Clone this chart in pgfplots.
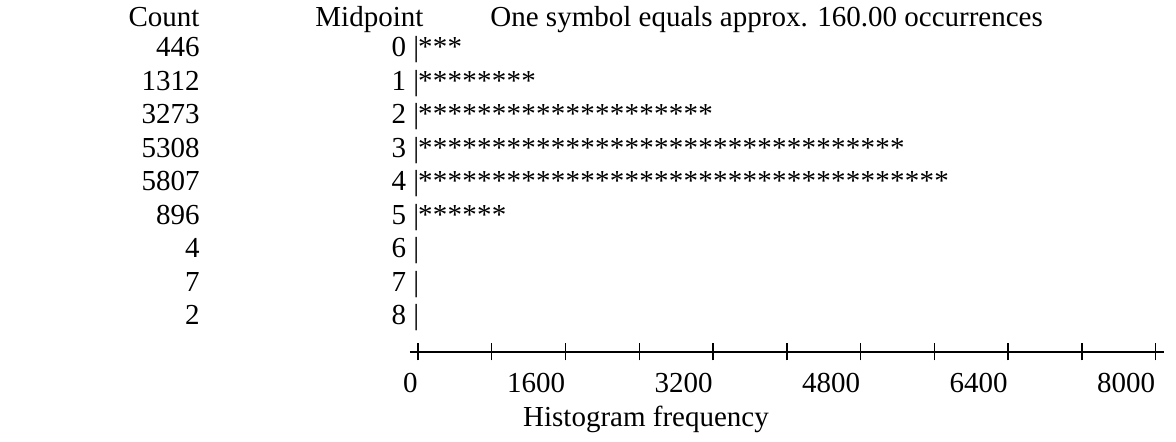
\documentclass[border=0pt]{standalone}
\usepackage{fontspec}
\setmainfont{Liberation Serif}
\usepackage{pgfplots}
\usepackage{pgfplotstable}
\pgfplotsset{compat=1.18}
\pgfplotstableread{
row count
0 446
1 1312
2 3273
3 5308
4 5807
5 896
6 4
7 7
8 2
}\counttable
\begin{document}
\begin{tikzpicture}[font=\fontsize{14.5}{17}\selectfont]
\begin{axis}[
  x=0.04609375pt, y=16.75pt,
  xmin=-87, xmax=8087, ymin=-8.806, ymax=1.2,
  clip=false,
  axis x line=bottom, axis y line=left,
  x axis line style={-, line width=0.55pt},
  y axis line style={draw=none},
  ytick style={draw=none},
  xtick={0,800,...,8000},
  xticklabels={0,,1600,,3200,,4800,,6400,,8000},
  xtick style={line width=0.7pt, black},
  xtick align=center, major tick length=8.5pt,
  xticklabel style={anchor=base east, inner sep=0pt, yshift=-16pt, font=\fontsize{14.5}{17}\selectfont},
  ytick={-8,...,0},
  yticklabels={8 |,7 |,6 |,5 |,4 |,3 |,2 |,1 |,0 |},
  yticklabel style={anchor=base east, inner sep=0pt, xshift=9pt, font=\fontsize{14.5}{17}\selectfont},
  xlabel={Histogram frequency},
  xlabel style={at={(axis cs:2473,-11.045)}, anchor=base, inner sep=0pt, font=\fontsize{14.5}{17}\selectfont},
]
% count column
\addplot[only marks, mark=none, point meta=explicit symbolic,
  nodes near coords={\pgfplotspointmeta},
  every node near coord/.style={anchor=base east, inner sep=0pt, font=\fontsize{14.5}{17}\selectfont}]
  table[x expr=-2365, y expr=-\thisrow{row}, meta=count] {\counttable};
% stars: one symbol = 160 occurrences
\addplot[only marks, mark=text, text mark={*}, text mark as node=true,
  text mark style={anchor=base, inner sep=0pt, font=\fontsize{14.5}{17}\selectfont}]
  coordinates {
  (80,0) (240,0) (400,0)
  (80,-1) (240,-1) (400,-1) (560,-1) (720,-1) (880,-1) (1040,-1) (1200,-1)
  (80,-2) (240,-2) (400,-2) (560,-2) (720,-2) (880,-2) (1040,-2) (1200,-2) (1360,-2) (1520,-2)
  (1680,-2) (1840,-2) (2000,-2) (2160,-2) (2320,-2) (2480,-2) (2640,-2) (2800,-2) (2960,-2) (3120,-2)
  (80,-3) (240,-3) (400,-3) (560,-3) (720,-3) (880,-3) (1040,-3) (1200,-3) (1360,-3) (1520,-3)
  (1680,-3) (1840,-3) (2000,-3) (2160,-3) (2320,-3) (2480,-3) (2640,-3) (2800,-3) (2960,-3) (3120,-3)
  (3280,-3) (3440,-3) (3600,-3) (3760,-3) (3920,-3) (4080,-3) (4240,-3) (4400,-3) (4560,-3) (4720,-3)
  (4880,-3) (5040,-3) (5200,-3)
  (80,-4) (240,-4) (400,-4) (560,-4) (720,-4) (880,-4) (1040,-4) (1200,-4) (1360,-4) (1520,-4)
  (1680,-4) (1840,-4) (2000,-4) (2160,-4) (2320,-4) (2480,-4) (2640,-4) (2800,-4) (2960,-4) (3120,-4)
  (3280,-4) (3440,-4) (3600,-4) (3760,-4) (3920,-4) (4080,-4) (4240,-4) (4400,-4) (4560,-4) (4720,-4)
  (4880,-4) (5040,-4) (5200,-4) (5360,-4) (5520,-4) (5680,-4)
  (80,-5) (240,-5) (400,-5) (560,-5) (720,-5) (880,-5)
  };
\node[anchor=base east, inner sep=0pt] at (axis cs:-2365,0.925) {Count};
\node[anchor=base west, inner sep=0pt] at (axis cs:-1117,0.925) {Midpoint};
\node[anchor=base west, inner sep=0pt] at (axis cs:781,0.925) {One symbol equals approx. 160.00 occurrences};
\coordinate (O) at (axis cs:0,0);
\end{axis}
\pgfresetboundingbox
\path (O) ++(-209pt,28.5pt) rectangle ++(588pt,-221pt);
\end{tikzpicture}
\end{document}
